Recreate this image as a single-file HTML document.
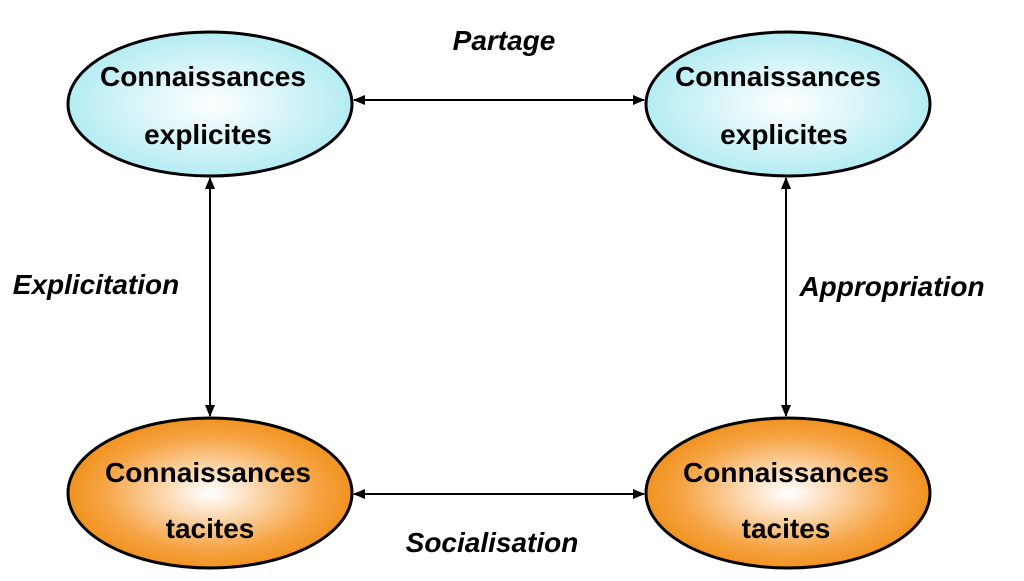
<!DOCTYPE html><html><head><meta charset="utf-8"><style>body{margin:0;width:1024px;height:576px;background:#fff;overflow:hidden}</style></head><body>
<svg width="1024" height="576" xmlns="http://www.w3.org/2000/svg">
<defs>
<radialGradient id="b" cx="50%" cy="50%" r="50%"><stop offset="0" stop-color="#ffffff"/><stop offset="1" stop-color="#b4ecf3"/></radialGradient>
<radialGradient id="o" cx="50%" cy="50%" r="50%"><stop offset="0" stop-color="#ffffff"/><stop offset="0.1" stop-color="#fff4ea"/><stop offset="0.75" stop-color="#f6a444"/><stop offset="1" stop-color="#f0921f"/></radialGradient>
<marker id="a" markerWidth="12" markerHeight="10" refX="11" refY="5" orient="auto-start-reverse" markerUnits="userSpaceOnUse"><path d="M0,0 L12,5 L0,10 Z" fill="#000"/></marker>
</defs>
<g stroke="#000" stroke-width="3">
<ellipse cx="210" cy="104" rx="142" ry="72" fill="url(#b)"/>
<ellipse cx="788" cy="104" rx="142" ry="72" fill="url(#b)"/>
<ellipse cx="210" cy="493" rx="142" ry="75" fill="url(#o)"/>
<ellipse cx="788" cy="493" rx="142" ry="75" fill="url(#o)"/>
</g>
<g stroke="#000" stroke-width="2">
<line x1="354" y1="100" x2="644" y2="100" marker-start="url(#a)" marker-end="url(#a)"/>
<line x1="354" y1="494" x2="644" y2="494" marker-start="url(#a)" marker-end="url(#a)"/>
<line x1="210" y1="178" x2="210" y2="416" marker-start="url(#a)" marker-end="url(#a)"/>
<line x1="786" y1="178" x2="786" y2="416" marker-start="url(#a)" marker-end="url(#a)"/>
</g>
<g font-family="Liberation Sans, sans-serif" font-size="28" font-weight="bold" text-anchor="middle" fill="#000">
<text x="203" y="86" textLength="206" lengthAdjust="spacingAndGlyphs">Connaissances</text><text x="208" y="144">explicites</text>
<text x="778" y="86" textLength="206" lengthAdjust="spacingAndGlyphs">Connaissances</text><text x="784" y="144">explicites</text>
<text x="208" y="482" textLength="206" lengthAdjust="spacingAndGlyphs">Connaissances</text><text x="210" y="538">tacites</text>
<text x="786" y="482" textLength="206" lengthAdjust="spacingAndGlyphs">Connaissances</text><text x="786" y="538">tacites</text>
</g>
<g font-family="Liberation Sans, sans-serif" font-size="28" font-style="italic" font-weight="bold" text-anchor="middle" fill="#000">
<text x="504" y="50">Partage</text>
<text x="96" y="294">Explicitation</text>
<text x="892" y="296">Appropriation</text>
<text x="492" y="552">Socialisation</text>
</g>
</svg>
</body></html>
